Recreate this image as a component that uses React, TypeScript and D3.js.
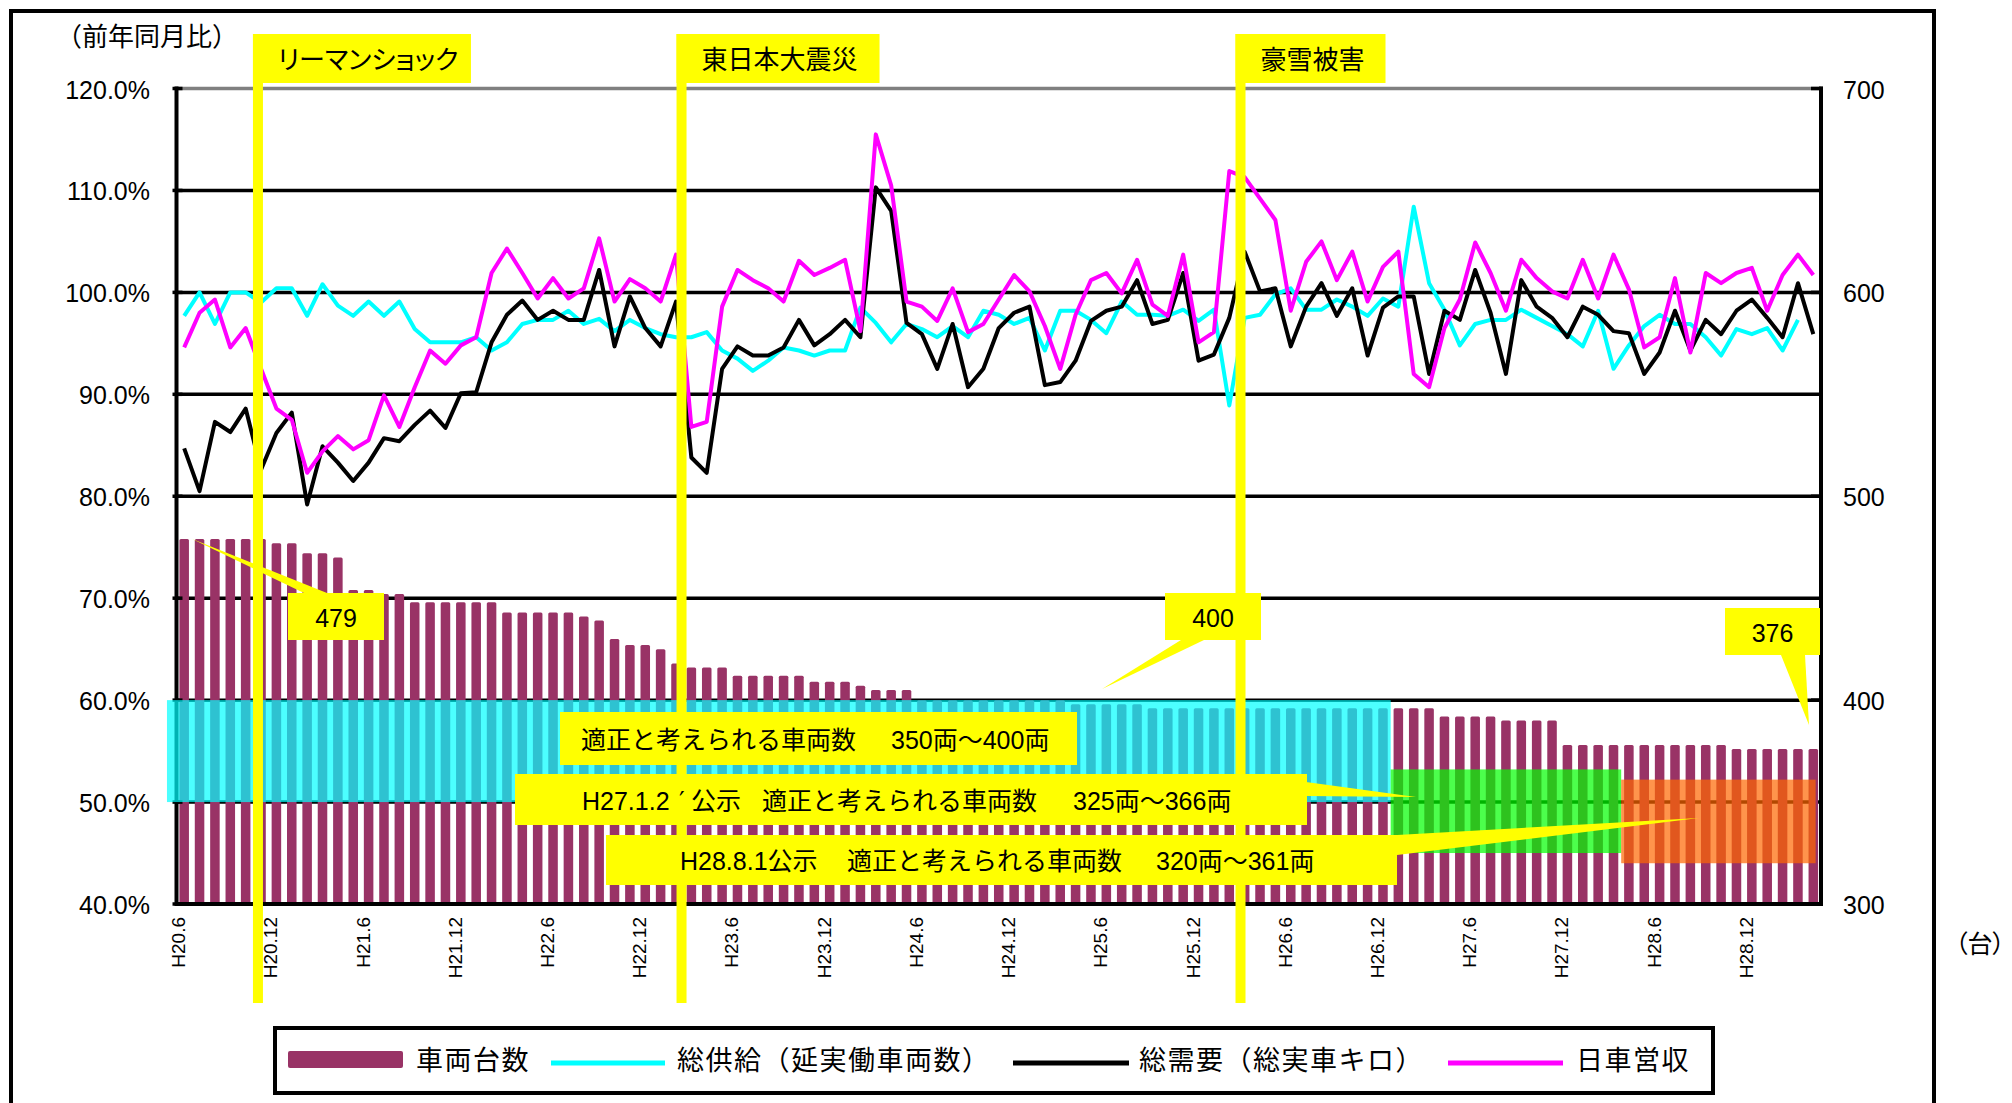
import React from "react";
import * as d3 from "d3";

const W = 2012;
const H = 1103;
const FONT = "'Liberation Sans', 'Noto Sans CJK JP', sans-serif";

// Monthly categories H20.6 … H29.4
const START_YEAR = 20;
const START_MONTH = 6;
const MONTH_COUNT = 107;
const months = d3.range(MONTH_COUNT).map((k) => {
  const m = START_MONTH - 1 + k;
  return `H${START_YEAR + Math.floor(m / 12)}.${(m % 12) + 1}`;
});

const tickLabels = [
  "H20.6", "H20.12", "H21.6", "H21.12", "H22.6", "H22.12", "H23.6", "H23.12", "H24.6",
  "H24.12", "H25.6", "H25.12", "H26.6", "H26.12", "H27.6", "H27.12", "H28.6", "H28.12",
];

const leftTicks = [40, 50, 60, 70, 80, 90, 100, 110, 120];
const rightTicks = [300, 400, 500, 600, 700];

// 車両台数 (台)
const vehicles = [
  479, 479, 479, 479, 479, 479, 477, 477, 472, 472,
  470, 454, 454, 452, 452, 448, 448, 448, 448, 448,
  448, 443, 443, 443, 443, 443, 441, 439, 430, 427,
  427, 425, 418, 416, 416, 416, 412, 412, 412, 412,
  412, 409, 409, 409, 407, 405, 405, 405, 400, 400,
  400, 400, 400, 400, 400, 400, 400, 400, 398, 398,
  398, 398, 398, 396, 396, 396, 396, 396, 396, 396,
  396, 396, 396, 396, 396, 396, 396, 396, 396, 396,
  396, 396, 392, 392, 392, 392, 390, 390, 390, 390,
  378, 378, 378, 378, 378, 378, 378, 378, 378, 378,
  378, 376, 376, 376, 376, 376, 376,
];

// 総供給（延実働車両数） 前年同月比 %
const supply = [
  97.7, 100.0, 96.9, 100.0, 100.0, 99.0, 100.4, 100.4, 97.7, 100.8,
  98.7, 97.7, 99.1, 97.7, 99.1, 96.4, 95.1, 95.1, 95.1, 95.6,
  94.3, 95.1, 96.9, 97.3, 97.3, 98.2, 96.9, 97.4, 96.2, 97.3,
  96.5, 95.9, 95.6, 95.6, 96.1, 94.3, 93.5, 92.3, 93.3, 94.6,
  94.3, 93.8, 94.3, 94.3, 98.5, 97.0, 95.1, 96.9, 96.4, 95.6,
  96.7, 95.6, 98.2, 97.8, 96.9, 97.5, 94.3, 98.2, 98.2, 97.3,
  96.0, 99.1, 97.8, 97.8, 97.7, 98.3, 97.2, 98.3, 88.9, 97.5,
  97.8, 99.8, 100.4, 98.3, 98.3, 99.3, 98.6, 97.7, 99.4, 98.6,
  108.4, 100.9, 98.3, 94.8, 96.9, 97.3, 97.3, 98.3, 97.5, 96.7,
  95.9, 94.7, 98.2, 92.5, 94.8, 96.7, 97.8, 96.9, 96.9, 95.6,
  93.8, 96.4, 95.9, 96.5, 94.3, 97.3,
];

// 総需要（総実車キロ） 前年同月比 %
const demand = [
  84.7, 80.5, 87.3, 86.3, 88.6, 82.6, 86.2, 88.2, 79.2, 84.9,
  83.3, 81.5, 83.3, 85.7, 85.4, 87.0, 88.4, 86.7, 90.1, 90.2,
  95.1, 97.8, 99.2, 97.3, 98.2, 97.3, 97.3, 102.2, 94.7, 99.6,
  96.5, 94.7, 99.1, 83.8, 82.3, 92.5, 94.7, 93.8, 93.8, 94.6,
  97.3, 94.8, 95.9, 97.3, 95.6, 110.3, 108.0, 97.0, 95.9, 92.5,
  96.9, 90.7, 92.5, 96.5, 98.0, 98.6, 90.9, 91.2, 93.3, 97.2,
  98.2, 98.6, 101.2, 96.9, 97.3, 101.9, 93.3, 93.9, 97.5, 104.0,
  100.1, 100.4, 94.7, 98.6, 100.9, 97.7, 100.4, 93.8, 98.5, 99.6,
  99.6, 92.0, 98.2, 97.3, 102.2, 98.0, 92.0, 101.2, 98.6, 97.5,
  95.6, 98.6, 97.8, 96.2, 96.0, 92.0, 94.1, 98.2, 94.3, 97.3,
  95.9, 98.2, 99.3, 97.5, 95.6, 100.9, 95.9,
];

// 日車営収 前年同月比 %
const revenue = [
  94.6, 98.0, 99.3, 94.6, 96.5, 92.5, 88.6, 87.5, 82.3, 84.4,
  85.9, 84.6, 85.5, 89.9, 86.8, 90.7, 94.3, 93.0, 94.8, 95.6,
  101.9, 104.3, 101.9, 99.4, 101.4, 99.4, 100.4, 105.3, 99.1, 101.3,
  100.4, 99.1, 103.7, 86.8, 87.3, 98.6, 102.2, 101.2, 100.4, 99.1,
  103.1, 101.7, 102.4, 103.2, 96.2, 115.5, 110.5, 99.1, 98.6, 97.2,
  100.4, 96.1, 96.9, 99.3, 101.7, 100.1, 96.7, 92.5, 97.8, 101.2,
  101.9, 99.9, 103.2, 98.8, 97.7, 103.7, 95.1, 96.1, 111.9, 111.3,
  109.2, 107.1, 98.2, 103.0, 105.0, 101.2, 104.0, 99.1, 102.5, 104.0,
  92.0, 90.7, 96.5, 99.3, 104.9, 101.9, 98.2, 103.2, 101.4, 100.1,
  99.4, 103.2, 99.4, 103.7, 100.3, 94.6, 95.6, 101.4, 94.1, 101.9,
  100.9, 101.9, 102.4, 98.2, 101.7, 103.7, 101.7,
];

// 適正車両数の範囲 (category span, 台)
const ranges = [
  { from: -0.62, to: 79, lo: 350, hi: 400, color: "#00FFFF" },
  { from: 79, to: 94, lo: 325, hi: 366, color: "#00FF00" },
  { from: 94, to: 106.65, lo: 320, hi: 361, color: "#FF6600" },
];

// 出来事 (category position of the marker)
const events = [
  { name: "リーマンショック", at: 5.3, boxW: 218 },
  { name: "東日本大震災", at: 32.86, boxW: 203 },
  { name: "豪雪被害", at: 69.23, boxW: 150 },
];

const series = [
  { name: "総供給（延実働車両数）", values: supply, color: "#00FFFF" },
  { name: "総需要（総実車キロ）", values: demand, color: "#000000" },
  { name: "日車営収", values: revenue, color: "#FF00FF" },
];

const PLOT = { left: 176.5, right: 1821, top: 88.5, bottom: 904 };
const YELLOW = "#FFFF00";
const BAR = "#993366";
const PRIME_FONT = "'DejaVu Sans', sans-serif";

export default function App() {
  const x = d3
    .scaleBand<number>()
    .domain(d3.range(MONTH_COUNT))
    .range([PLOT.left, PLOT.right])
    .paddingInner(0.38)
    .paddingOuter(0.19);
  const step = x.step();
  const bw = x.bandwidth();
  const xc = (i: number) => (x(i) ?? 0) + bw / 2;
  const xAt = (u: number) => PLOT.left + u * step;

  const yL = d3.scaleLinear().domain([40, 120]).range([PLOT.bottom, PLOT.top]);
  const yR = d3.scaleLinear().domain([300, 700]).range([PLOT.bottom, PLOT.top]);

  const line = d3
    .line<number>()
    .x((_, i) => xc(i))
    .y((d) => yL(d));

  const pctFmt = (v: number) => `${d3.format(".1f")(v)}%`;

  const eventTop = 34;
  const eventBoxH = 49;
  const eventBottom = 1003;
  const eventLineW = 10;

  // value callouts
  const first = vehicles[0];
  const mid = vehicles[50];
  const last = vehicles[vehicles.length - 1];
  const callouts = [
    { text: String(first), bx: 288, by: 593, bw: 96, bh: 47, pts: [[xc(0) + 8, yR(first)], [304, 593], [327, 593]] },
    { text: String(mid), bx: 1165, by: 593, bw: 96, bh: 47, pts: [[1181, 640], [1204, 640], [1102, 689]] },
    { text: String(last), bx: 1725, by: 608, bw: 95, bh: 47, pts: [[1781, 655], [1805, 655], [1809, 725]] },
  ];

  const notes = [
    {
      bx: 560, by: 712, bw: 517, bh: 53,
      pieces: [
        { t: "適正と考えられる車両数", x: 581 },
        { t: "350両～400両", x: 891 },
      ],
    },
    {
      bx: 515, by: 774, bw: 792, bh: 51,
      pieces: [
        { t: "H27.1.2", x: 582 },
        { t: "′", x: 679, font: PRIME_FONT },
        { t: "公示", x: 691 },
        { t: "適正と考えられる車両数", x: 762 },
        { t: "325両～366両", x: 1073 },
      ],
      pointer: [[1306, 782], [1306, 796], [1416, 797]],
    },
    {
      bx: 606, by: 835, bw: 791, bh: 50,
      pieces: [
        { t: "H28.8.1公示", x: 680 },
        { t: "適正と考えられる車両数", x: 847 },
        { t: "320両～361両", x: 1156 },
      ],
      pointer: [[1397, 835], [1397, 855], [1699, 818]],
    },
  ];

  const legendY = 1061;
  const legendText = { fontSize: 27, letterSpacing: 1.5 };
  const palt = { fontFeatureSettings: '"palt"' };

  return (
    <svg
      width={W}
      height={H}
      viewBox={`0 0 ${W} ${H}`}
      style={{ position: "absolute", left: 0, top: 0, display: "block", background: "#fff" }}
      fontFamily={FONT}
    >
      <rect x={0} y={0} width={W} height={H} fill="#fff" />
      {/* outer frame */}
      <rect x={11} y={11} width={1923} height={1110} fill="none" stroke="#000" strokeWidth={4} />

      {/* gridlines */}
      {leftTicks.slice(1).map((t) => (
        <line
          key={t}
          x1={PLOT.left}
          x2={PLOT.right}
          y1={yL(t)}
          y2={yL(t)}
          stroke={t === 120 ? "#808080" : "#000"}
          strokeWidth={3.5}
        />
      ))}

      {/* 車両台数 bars */}
      {vehicles.map((v, i) => (
        <rect
          key={i}
          x={x(i)}
          y={yR(v)}
          width={bw}
          height={yR(300) - yR(v)}
          fill={BAR}
          rx={1.5}
        />
      ))}

      {/* ratio lines */}
      {series.map((s) => (
        <path
          key={s.name}
          d={line(s.values) ?? ""}
          fill="none"
          stroke={s.color}
          strokeWidth={4}
          strokeLinejoin="round"
        />
      ))}

      {/* axes */}
      <line x1={PLOT.left} x2={PLOT.left} y1={PLOT.top - 2} y2={PLOT.bottom + 2} stroke="#000" strokeWidth={4} />
      <line x1={PLOT.right} x2={PLOT.right} y1={PLOT.top - 2} y2={PLOT.bottom + 2} stroke="#000" strokeWidth={4} />
      <line x1={PLOT.left} x2={PLOT.right + 2} y1={PLOT.bottom} y2={PLOT.bottom} stroke="#000" strokeWidth={4} />
      {leftTicks.map((t) => (
        <line key={`lt${t}`} x1={PLOT.left - 4} x2={PLOT.left + 6} y1={yL(t)} y2={yL(t)} stroke="#000" strokeWidth={3.5} />
      ))}
      {rightTicks.map((t) => (
        <line key={`rt${t}`} x1={PLOT.right - 10} x2={PLOT.right + 2} y1={yR(t)} y2={yR(t)} stroke="#000" strokeWidth={3.5} />
      ))}

      {/* appropriate-fleet ranges */}
      {ranges.map((r) => (
        <rect
          key={r.color}
          x={xAt(r.from)}
          y={yR(r.hi)}
          width={xAt(r.to) - xAt(r.from)}
          height={yR(r.lo) - yR(r.hi)}
          fill={r.color}
          fillOpacity={0.7}
        />
      ))}

      {/* range note boxes */}
      {notes.map((n, k) => (
        <g key={`nb${k}`}>
          {n.pointer && <polygon points={n.pointer.map((p) => p.join(",")).join(" ")} fill={YELLOW} />}
          <rect x={n.bx} y={n.by} width={n.bw} height={n.bh} fill={YELLOW} />
        </g>
      ))}

      {/* value callout boxes */}
      {callouts.map((c) => (
        <g key={`cb${c.text}`}>
          <polygon points={c.pts.map((p) => p.join(",")).join(" ")} fill={YELLOW} />
          <rect x={c.bx} y={c.by} width={c.bw} height={c.bh} fill={YELLOW} />
        </g>
      ))}

      {/* event markers */}
      {events.map((e) => {
        const left = xAt(e.at) - eventLineW / 2;
        return (
          <g key={`eb${e.name}`}>
            <rect x={left} y={eventTop} width={e.boxW} height={eventBoxH} fill={YELLOW} />
            <rect x={left} y={eventTop} width={eventLineW} height={eventBottom - eventTop} fill={YELLOW} />
          </g>
        );
      })}

      {/* note texts */}
      {notes.map((n, k) =>
        n.pieces.map((p) => (
          <text
            key={`nt${k}${p.t}`}
            x={p.x}
            y={n.by + n.bh / 2 + 1}
            fontSize={25}
            fontFamily={p.font ?? FONT}
            dominantBaseline="central"
            fill="#000"
          >
            {p.t}
          </text>
        ))
      )}

      {/* callout texts */}
      {callouts.map((c) => (
        <text
          key={`ct${c.text}`}
          x={c.bx + c.bw / 2}
          y={c.by + c.bh / 2 + 1}
          fontSize={25}
          textAnchor="middle"
          dominantBaseline="central"
          fill="#000"
        >
          {c.text}
        </text>
      ))}

      {/* event texts */}
      {events.map((e) => {
        const left = xAt(e.at) - eventLineW / 2;
        return (
          <text
            key={`et${e.name}`}
            x={left + 25}
            y={eventTop + eventBoxH / 2 + 1}
            fontSize={26}
            dominantBaseline="central"
            style={palt}
            fill="#000"
          >
            {e.name}
          </text>
        );
      })}

      {/* left axis labels */}
      {leftTicks.map((t) => (
        <text key={`ll${t}`} x={150} y={yL(t) + 1} fontSize={25} textAnchor="end" dominantBaseline="central" fill="#000">
          {pctFmt(t)}
        </text>
      ))}
      {/* right axis labels */}
      {rightTicks.map((t) => (
        <text key={`rl${t}`} x={1843} y={yR(t) + 1} fontSize={25} dominantBaseline="central" fill="#000">
          {t}
        </text>
      ))}
      <text x={56} y={37} fontSize={26} dominantBaseline="central" fill="#000">
        （前年同月比）
      </text>
      <text x={1955} y={944} fontSize={25} dominantBaseline="central" style={palt} fill="#000">
        （台）
      </text>

      {/* category labels */}
      {tickLabels.map((lab) => {
        const i = months.indexOf(lab);
        const px = xc(i) + 1;
        return (
          <text
            key={lab}
            transform={`translate(${px},917) rotate(-90)`}
            fontSize={19}
            textAnchor="end"
            fill="#000"
          >
            {lab}
          </text>
        );
      })}

      {/* legend */}
      <rect x={275} y={1028} width={1438} height={65} fill="#fff" stroke="#000" strokeWidth={4} />
      <rect x={288} y={1051} width={115} height={17} fill={BAR} rx={2} />
      <text x={416} y={legendY} dominantBaseline="central" {...legendText}>車両台数</text>
      <line x1={551} x2={665} y1={1063} y2={1063} stroke={series[0].color} strokeWidth={5} />
      <text x={677} y={legendY} dominantBaseline="central" {...legendText}>{series[0].name}</text>
      <line x1={1013} x2={1129} y1={1063} y2={1063} stroke={series[1].color} strokeWidth={5} />
      <text x={1139} y={legendY} dominantBaseline="central" {...legendText}>{series[1].name}</text>
      <line x1={1448} x2={1563} y1={1063} y2={1063} stroke={series[2].color} strokeWidth={5} />
      <text x={1576} y={legendY} dominantBaseline="central" {...legendText}>{series[2].name}</text>
    </svg>
  );
}
